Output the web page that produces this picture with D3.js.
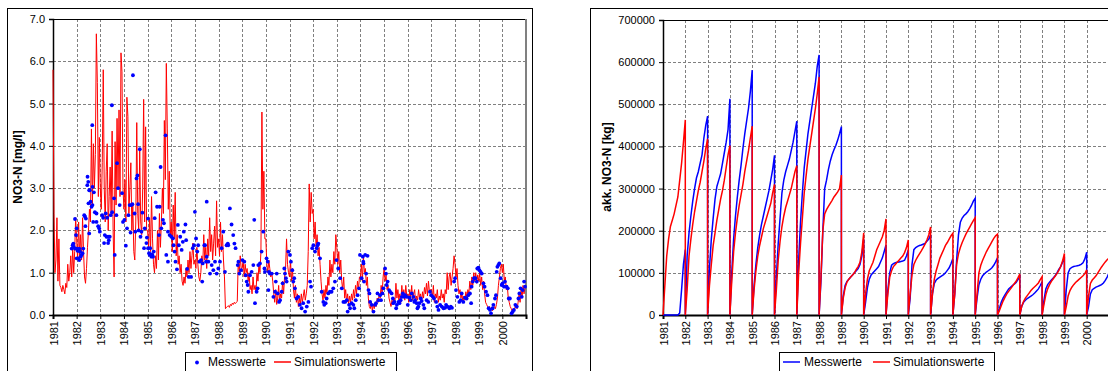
<!DOCTYPE html>
<html><head><meta charset="utf-8">
<script src="https://cdn.jsdelivr.net/npm/d3@7"></script>
<style>body{margin:0;background:#fff}svg{display:block}text{font-family:Arial,"Liberation Sans",sans-serif}</style>
</head><body><svg id="c" width="1108" height="371"></svg>
<script>
// ---------- DATA ----------
const yearTicks = [1981,1982,1983,1984,1985,1986,1987,1988,1989,1990,1991,1992,1993,1994,1995,1996,1997,1998,1999,2000];
const concTicks = [0,1,2,3,4,5,6,7];
const loadTicks = [0,100000,200000,300000,400000,500000,600000,700000];
const legendLabels = ["Messwerte","Simulationswerte"];

// simulated NO3-N [mg/l], half-monthly values per year (1981..2000)
const simNO3 = [
[5.8,2.4,1.0,1.3,2.3,0.8,1.8,0.7,0.65,0.55,0.7,0.6,0.5,0.75,0.65,1.2,0.8,1.0,1.4,0.9,1.6,1.0,1.5,2.3],
[1.8,1.3,2.2,1.4,1.9,1.3,2.3,1.5,0.9,0.75,1.1,1.6,2.0,2.5,2.2,4.4,2.6,4.05,3.0,3.8,6.65,5.5,2.8,4.2],
[3.0,2.5,3.6,5.8,3.0,2.2,3.4,4.05,2.0,2.8,3.5,2.4,4.35,2.0,0.9,4.1,2.6,4.65,3.0,4.85,2.8,6.2,5.75,3.0],
[2.5,3.2,2.2,5.15,4.7,2.4,3.0,3.6,2.0,2.6,1.5,1.3,2.2,4.55,2.4,2.0,3.9,2.2,1.9,3.0,5.1,2.2,4.45,2.0],
[2.0,1.6,2.3,1.5,2.8,1.8,1.2,1.0,1.4,1.1,2.0,1.3,2.4,1.6,2.2,3.0,2.4,4.6,3.2,5.95,4.4,2.5,3.4,1.9],
[2.2,1.5,2.6,1.8,2.9,1.4,1.9,1.2,1.4,1.0,1.2,0.8,0.7,0.9,0.75,1.1,0.9,1.3,1.0,1.5,1.1,1.4,1.7,1.2],
[1.3,1.1,1.6,1.2,0.9,0.8,1.0,1.4,1.2,1.9,1.3,1.6,1.1,1.8,1.4,2.3,1.5,1.9,1.3,1.7,2.1,1.4,2.7,1.6],
[1.8,1.4,2.2,1.5,1.9,1.3,0.9,0.15,0.18,0.2,0.22,0.18,0.25,0.22,0.28,0.25,0.3,0.27,0.3,0.32,1.3,1.0,1.4,1.1],
[1.1,1.3,0.9,1.2,1.0,1.1,0.8,1.0,0.6,0.7,0.5,0.9,0.6,0.7,0.55,1.0,0.8,1.2,1.0,1.5,4.8,2.5,3.4,1.8],
[1.8,1.2,1.0,1.3,1.1,0.9,1.0,0.8,0.5,0.3,0.6,0.25,0.4,0.7,0.3,0.5,0.4,0.8,0.5,0.9,1.1,1.8,1.2,1.0],
[0.9,1.3,0.8,1.1,0.6,0.4,0.7,0.3,0.5,0.2,0.4,0.25,0.5,0.3,0.45,0.6,0.35,0.5,0.7,1.5,3.1,2.2,2.9,2.4],
[2.5,1.8,2.2,1.6,1.9,1.4,1.6,1.2,0.8,0.5,0.35,0.6,0.4,0.7,0.5,0.9,0.7,1.3,0.9,1.2,1.0,1.5,1.2,1.9],
[1.6,1.2,1.5,1.0,1.3,0.8,0.6,0.9,0.4,0.6,0.3,0.5,0.25,0.45,0.3,0.5,0.35,0.6,0.4,0.7,0.5,0.8,0.6,0.9],
[0.9,1.2,0.8,1.4,1.0,1.1,0.7,0.9,0.4,0.2,0.15,0.3,0.1,0.25,0.15,0.3,0.2,0.4,0.3,0.5,0.4,0.7,0.5,0.9],
[1.1,0.8,0.95,0.6,0.7,0.4,0.3,0.2,0.35,0.25,0.4,0.3,0.75,0.4,0.6,0.35,0.5,0.3,0.7,0.4,0.6,0.35,0.7,0.45],
[0.5,0.3,0.6,0.4,0.7,0.35,0.5,0.6,0.3,0.45,0.35,0.6,0.4,0.5,0.3,0.55,0.4,0.65,0.5,0.75,0.45,0.8,0.55,0.6],
[0.6,0.4,0.7,0.3,0.5,0.4,0.6,0.3,0.45,0.35,0.6,0.4,0.5,0.3,0.6,0.5,1.0,0.6,0.9,1.0,0.7,0.9,1.1,1.4],
[1.2,0.9,1.1,0.7,0.5,0.6,0.4,0.5,0.3,0.45,0.35,0.55,0.4,0.6,0.5,0.8,0.6,0.9,0.7,1.0,0.8,1.0,0.75,0.95],
[0.8,1.0,0.7,0.9,0.6,0.8,0.5,0.3,0.25,0.2,0.15,0.2,0.12,0.18,0.1,0.15,0.2,0.15,0.25,0.4,0.7,0.9,1.1,1.2],
[1.0,1.2,0.8,0.9,0.6,0.7,0.4,0.3,0.2,0.15,0.1,0.15,0.1,0.2,0.25,0.15,0.3,0.5,0.3,0.6,0.4,0.7,0.5,0.65]
];

// measured NO3-N: sampling date (decimal year) and value [mg/l]
const messT = [
1981.79,1981.83,1981.86,1981.88,1981.93,1981.93,1981.97,1982.00,1982.00,1982.00,1982.04,1982.07,1982.07,1982.11,1982.11,1982.14,1982.17,1982.21,1982.25,1982.28,
1982.32,1982.35,1982.37,1982.39,1982.45,1982.46,1982.49,1982.50,1982.53,1982.53,1982.56,1982.59,1982.63,1982.66,1982.67,1982.67,1982.70,1982.73,1982.77,1982.84,
1982.84,1982.91,1982.95,1982.98,1983.08,1983.12,1983.16,1983.19,1983.23,1983.26,1983.29,1983.33,1983.33,1983.36,1983.40,1983.44,1983.49,1983.50,1983.58,1983.61,
1983.68,1983.71,1983.75,1983.82,1983.92,1983.96,1984.02,1984.08,1984.13,1984.19,1984.24,1984.28,1984.31,1984.36,1984.38,1984.45,1984.48,1984.53,1984.57,1984.60,
1984.62,1984.67,1984.70,1984.74,1984.78,1984.85,1984.88,1984.95,1984.97,1985.02,1985.02,1985.06,1985.09,1985.11,1985.13,1985.16,1985.20,1985.23,1985.26,1985.30,
1985.34,1985.40,1985.48,1985.51,1985.55,1985.58,1985.65,1985.69,1985.76,1985.79,1985.86,1985.86,1985.93,1986.00,1986.07,1986.10,1986.14,1986.18,1986.24,1986.28,
1986.32,1986.38,1986.44,1986.49,1986.53,1986.60,1986.63,1986.67,1986.74,1986.84,1986.91,1986.96,1987.00,1987.05,1987.10,1987.14,1987.19,1987.26,1987.31,1987.33,
1987.40,1987.43,1987.47,1987.50,1987.50,1987.57,1987.64,1987.71,1987.78,1987.85,1987.92,1987.99,1988.06,1988.13,1988.20,1988.27,1988.34,1988.39,1988.41,1988.48,
1988.55,1988.62,1988.67,1988.72,1988.81,1988.84,1988.88,1988.95,1989.01,1989.09,1989.15,1989.19,1989.23,1989.26,1989.33,1989.40,1989.47,1989.51,1989.54,1989.61,
1989.65,1989.68,1989.75,1989.82,1989.89,1989.94,1989.96,1990.03,1990.08,1990.11,1990.13,1990.17,1990.25,1990.32,1990.39,1990.42,1990.46,1990.50,1990.56,1990.60,
1990.67,1990.71,1990.78,1990.81,1990.85,1990.88,1990.95,1991.02,1991.06,1991.12,1991.16,1991.20,1991.23,1991.30,1991.37,1991.44,1991.51,1991.58,1991.66,1991.73,
1991.80,1991.87,1991.91,1991.96,1992.01,1992.08,1992.15,1992.19,1992.22,1992.29,1992.36,1992.43,1992.47,1992.53,1992.57,1992.64,1992.71,1992.78,1992.85,1992.92,
1992.99,1993.06,1993.14,1993.21,1993.28,1993.35,1993.42,1993.46,1993.52,1993.56,1993.63,1993.70,1993.74,1993.80,1993.88,1993.94,1993.98,1994.05,1994.10,1994.12,
1994.13,1994.15,1994.20,1994.24,1994.30,1994.34,1994.38,1994.41,1994.48,1994.55,1994.62,1994.66,1994.72,1994.76,1994.83,1994.87,1994.93,1994.97,1995.04,1995.08,
1995.11,1995.15,1995.21,1995.25,1995.32,1995.37,1995.39,1995.44,1995.51,1995.54,1995.61,1995.65,1995.70,1995.75,1995.79,1995.85,1995.89,1995.96,1996.00,1996.07,
1996.13,1996.17,1996.24,1996.28,1996.31,1996.38,1996.41,1996.45,1996.49,1996.55,1996.59,1996.66,1996.70,1996.80,1996.87,1996.94,1996.99,1997.06,1997.11,1997.20,
1997.25,1997.30,1997.37,1997.44,1997.51,1997.58,1997.62,1997.68,1997.76,1997.82,1997.87,1997.96,1998.00,1998.04,1998.10,1998.18,1998.24,1998.28,1998.35,1998.42,
1998.49,1998.56,1998.63,1998.68,1998.70,1998.75,1998.80,1998.86,1998.92,1998.94,1998.99,1999.03,1999.08,1999.13,1999.20,1999.25,1999.31,1999.37,1999.42,1999.48,
1999.52,1999.59,1999.62,1999.69,1999.73,1999.76,1999.79,1999.83,1999.87,1999.93,1999.97,2000.01,2000.07,2000.11,2000.18,2000.23,2000.27,2000.32,2000.39,2000.44,
2000.49,2000.55,2000.61,2000.68,2000.72,2000.77,2000.82,2000.86,2000.92,2000.96
];
const messV = [
1.57,1.65,1.69,1.61,2.27,1.57,1.89,2.05,1.57,1.34,1.52,1.54,1.34,1.57,1.30,1.50,1.38,1.42,1.46,1.57,
2.36,2.33,2.10,2.28,3.07,3.27,3.15,2.64,2.95,1.93,2.95,2.68,2.56,4.49,3.03,2.60,2.20,2.90,2.43,2.40,
2.20,2.10,2.05,1.97,2.36,2.30,1.70,1.89,2.40,1.85,2.30,1.85,1.70,1.77,1.85,2.36,4.96,2.43,2.76,1.42,
2.36,3.59,3.00,2.60,2.88,2.20,2.25,1.64,2.05,2.36,2.60,1.95,2.60,2.62,5.67,2.40,1.97,3.23,3.30,2.62,
2.00,3.92,1.85,1.97,2.42,1.58,2.05,1.70,1.83,1.58,2.28,1.46,1.42,1.58,1.44,1.38,1.42,1.38,1.50,2.29,
2.90,2.56,1.89,2.56,3.50,2.05,2.25,2.17,4.25,1.42,1.26,1.97,1.89,1.85,1.81,1.65,1.50,1.26,1.08,2.13,
1.65,1.85,1.54,1.73,1.97,2.14,1.77,1.09,0.90,0.90,1.58,1.65,2.44,1.81,1.50,1.65,1.26,1.30,0.79,1.22,
1.65,1.65,1.26,2.68,1.38,1.26,0.98,1.18,1.06,1.26,0.98,1.10,1.26,1.58,1.97,1.02,1.65,1.69,1.65,2.52,
2.14,1.89,1.69,1.58,1.18,1.26,0.98,1.06,1.30,1.26,0.94,0.79,0.71,0.55,0.94,1.02,1.18,2.25,0.28,0.55,
0.63,1.18,1.22,1.50,1.97,1.10,1.02,1.34,1.26,0.59,1.02,0.98,0.98,0.43,0.55,0.79,0.98,0.51,0.31,0.35,
0.55,0.75,1.10,0.98,0.87,0.79,1.50,1.42,1.26,1.06,0.79,0.87,0.63,0.39,0.43,0.24,0.16,0.28,0.08,0.20,
0.31,0.79,0.67,1.58,1.65,1.50,1.58,1.65,1.69,1.34,0.55,0.31,0.24,0.28,0.39,0.51,0.55,0.55,0.63,0.79,
1.30,1.10,0.87,0.63,0.31,0.31,0.35,0.08,0.24,0.16,0.28,0.24,0.16,0.35,0.47,0.63,1.42,0.87,1.38,1.26,
1.22,0.79,1.42,0.98,1.40,0.59,0.51,0.31,0.24,0.08,0.24,0.28,0.51,0.35,0.47,0.35,0.51,0.63,1.10,0.98,
0.71,0.79,0.59,0.55,0.51,0.39,0.28,0.31,0.16,0.24,0.31,0.28,0.35,0.43,0.51,0.43,0.47,0.43,0.24,0.41,
0.35,0.51,0.43,0.31,0.35,0.28,0.16,0.20,0.28,0.39,0.33,0.24,0.16,0.35,0.31,0.55,0.47,0.43,0.39,0.31,
0.20,0.12,0.24,0.20,0.16,0.17,0.24,0.20,0.16,0.20,0.17,0.79,0.87,0.59,0.43,0.31,0.35,0.51,0.31,0.41,
0.39,0.47,0.51,0.28,0.67,0.79,0.87,0.87,0.79,1.10,1.12,1.06,1.02,0.98,0.75,0.67,0.55,0.47,0.16,0.12,
0.04,0.16,0.24,0.39,0.47,1.02,1.14,1.18,1.22,0.87,0.71,0.75,0.67,0.79,0.67,0.63,0.39,0.39,0.04,0.08,
0.12,0.24,0.20,0.39,0.51,0.63,0.43,0.59,0.79,0.67
];

// accumulated NO3-N load [kg], cumulative at start of each month (13 values per year)
const messAkk = [
[0,0,0,0,0,0,0,0,0,5000,60000,120000,155000],
[0,140000,195000,235000,270000,300000,325000,340000,360000,380000,420000,450000,472000],
[0,110000,180000,230000,275000,305000,320000,335000,360000,385000,410000,440000,513000],
[0,100000,180000,235000,280000,320000,355000,395000,430000,460000,490000,530000,581000],
[0,70000,120000,160000,190000,215000,235000,255000,275000,295000,320000,345000,379000],
[0,90000,170000,230000,290000,320000,340000,355000,370000,390000,410000,435000,460000],
[0,130000,220000,290000,350000,390000,430000,460000,490000,520000,550000,590000,617000],
[0,80000,200000,300000,320000,345000,365000,380000,392000,402000,415000,430000,447000],
[0,45000,70000,80000,85000,90000,95000,100000,105000,110000,120000,140000,180000],
[0,30000,65000,85000,95000,100000,105000,110000,115000,125000,135000,150000,166000],
[0,60000,100000,118000,122000,124000,125000,126000,127000,128000,130000,140000,154000],
[0,40000,120000,155000,160000,163000,165000,166000,168000,170000,175000,180000,190000],
[0,50000,75000,83000,87000,90000,93000,96000,100000,106000,112000,122000,134000],
[0,50000,130000,190000,220000,230000,236000,240000,245000,252000,260000,270000,277000],
[0,40000,72000,85000,93000,98000,102000,105000,108000,112000,118000,126000,136000],
[0,15000,30000,40000,48000,55000,62000,66000,70000,73000,77000,84000,91000],
[0,20000,30000,35000,39000,42000,45000,48000,52000,57000,62000,70000,79000],
[0,35000,62000,72000,78000,83000,88000,93000,100000,108000,115000,125000,138000],
[0,60000,100000,110000,113000,115000,116000,117000,118000,120000,124000,133000,149000],
[0,20000,50000,60000,63000,66000,68000,70000,72000,76000,82000,90000,100000]
];
const simAkk = [
[0,70000,140000,180000,210000,225000,240000,260000,280000,320000,360000,410000,463000],
[0,60000,140000,180000,215000,245000,270000,295000,315000,340000,365000,395000,418000],
[0,70000,120000,165000,195000,225000,250000,275000,295000,320000,350000,380000,402000],
[0,80000,150000,195000,230000,260000,285000,310000,340000,365000,390000,420000,448000],
[0,60000,105000,140000,165000,185000,205000,220000,235000,250000,265000,290000,310000],
[0,60000,130000,175000,210000,235000,255000,270000,285000,300000,320000,340000,354000],
[0,100000,170000,230000,290000,330000,370000,400000,430000,460000,490000,525000,565000],
[0,90000,200000,240000,250000,258000,265000,272000,280000,286000,292000,300000,332000],
[0,40000,65000,78000,85000,90000,95000,100000,108000,115000,125000,150000,195000],
[0,50000,85000,105000,115000,125000,140000,155000,165000,175000,185000,200000,228000],
[0,50000,90000,105000,115000,120000,125000,130000,135000,140000,148000,160000,178000],
[0,50000,95000,120000,130000,138000,145000,152000,160000,168000,178000,190000,209000],
[0,50000,85000,105000,120000,135000,145000,155000,165000,172000,180000,188000,194000],
[0,50000,120000,145000,160000,172000,182000,192000,200000,208000,216000,224000,231000],
[0,50000,100000,118000,130000,140000,150000,158000,166000,174000,182000,188000,192000],
[0,10000,22000,33000,42000,50000,56000,62000,68000,74000,80000,88000,97000],
[0,20000,32000,40000,46000,52000,58000,63000,67000,71000,76000,84000,91000],
[0,25000,48000,62000,72000,80000,86000,92000,98000,106000,115000,128000,146000],
[0,20000,45000,58000,66000,72000,77000,81000,85000,89000,93000,98000,107000],
[0,45000,75000,83000,88000,93000,100000,107000,114000,120000,126000,131000,135000]
];

// ---------- DRAW ----------
const svg = d3.select("#c");
svg.append("rect").attr("width",1108).attr("height",371).attr("fill","#fff");
const BLUE="#0000ff", RED="#ff0000", GRID="#808080";

function panel(o){
  // outer frame
  svg.append("rect").attr("x",o.fx).attr("y",8.5).attr("width",o.fw).attr("height",400)
    .attr("fill","none").attr("stroke","#000").attr("stroke-width",1);
  const x = d3.scaleLinear().domain([1981,2001]).range([o.x0,o.x1]);
  const y = d3.scaleLinear().domain(o.ydom).range([315,o.y0]);
  const g = svg.append("g");
  // grid
  g.selectAll(".hg").data(o.yt.slice(1,-1)).join("line")
    .attr("x1",o.x0).attr("x2",o.x1).attr("y1",d=>Math.round(y(d))+0.5).attr("y2",d=>Math.round(y(d))+0.5)
    .attr("stroke",GRID).attr("stroke-dasharray","3,2");
  g.selectAll(".vg").data(yearTicks.slice(1)).join("line")
    .attr("x1",d=>Math.round(x(d))+0.5).attr("x2",d=>Math.round(x(d))+0.5).attr("y1",o.y0).attr("y2",315)
    .attr("stroke",GRID).attr("stroke-dasharray","3,2");
  // frame of plot
  g.append("line").attr("x1",o.x0).attr("x2",o.x1).attr("y1",o.y0+0.5).attr("y2",o.y0+0.5).attr("stroke","#000");
  g.append("line").attr("x1",o.x1).attr("x2",o.x1).attr("y1",o.y0).attr("y2",315).attr("stroke",GRID).attr("stroke-width",2);
  // y axis
  const ya = d3.axisLeft(y).tickValues(o.yt).tickSize(4).tickFormat(o.fmt);
  const yg = svg.append("g").attr("transform",`translate(${o.x0},0)`).call(ya);
  yg.select(".domain").attr("stroke-width",1.5);
  yg.selectAll("text").attr("font-size",11).attr("fill","#000").attr("x",-8);
  // x axis
  const xa = d3.axisBottom(x).tickValues(yearTicks).tickSize(4).tickFormat(d3.format("d"));
  const xg = svg.append("g").attr("transform","translate(0,315)").call(xa);
  xg.select(".domain").attr("stroke-width",2);
  xg.selectAll("text").attr("font-size",11).attr("fill","#000")
    .attr("text-anchor","end").attr("transform","translate(4,6) rotate(-90)").attr("x",0).attr("y",0).attr("dy",0);
  // y title
  svg.append("text").attr("transform",`translate(${o.tx},167) rotate(-90)`).attr("text-anchor","middle")
    .attr("font-size",12).attr("font-weight","bold").text(o.title);
  return {x,y};
}

// Left chart
const L = panel({fx:7.5,fw:525,x0:53,x1:526,y0:19,ydom:[0,7],yt:concTicks,fmt:d3.format(".1f"),tx:22,title:"NO3-N [mg/l]"});
const simPts = [];
simNO3.forEach((row,j)=>row.forEach((v,i)=>simPts.push({t:yearTicks[j]+i/24,v})));
svg.append("path").datum(simPts).attr("fill","none").attr("stroke",RED).attr("stroke-width",1)
  .attr("d",d3.line().x(d=>L.x(d.t)).y(d=>L.y(d.v)));
svg.append("g").selectAll("circle").data(messT.map((t,i)=>({t,v:messV[i]}))).join("circle")
  .attr("cx",d=>L.x(d.t)).attr("cy",d=>L.y(d.v)).attr("r",1.9).attr("fill",BLUE);

// Right chart
const R = panel({fx:590.5,fw:600,x0:663,x1:1109,y0:20,ydom:[0,700000],yt:loadTicks,fmt:d3.format("d"),tx:611,title:"akk. NO3-N [kg]"});
function cum(arr){const p=[];arr.forEach((row,j)=>row.forEach((v,m)=>p.push({t:yearTicks[j]+m/12,v})));return p;}
const rl = d3.line().x(d=>R.x(d.t)).y(d=>R.y(d.v));
svg.append("path").datum(cum(messAkk)).attr("fill","none").attr("stroke",BLUE).attr("stroke-width",1.5).attr("d",rl);
svg.append("path").datum(cum(simAkk)).attr("fill","none").attr("stroke",RED).attr("stroke-width",1.5).attr("d",rl);

// Legends
function legend(x0,w,lineBlue,bx){
  const g = svg.append("g");
  g.append("rect").attr("x",x0+0.5).attr("y",352.5).attr("width",w).attr("height",30).attr("fill","#fff").attr("stroke","#000");
  if(lineBlue){
    g.append("line").attr("x1",x0+4).attr("x2",x0+21).attr("y1",362).attr("y2",362).attr("stroke",BLUE).attr("stroke-width",1.5);
  } else {
    g.append("circle").attr("cx",x0+12).attr("cy",362.5).attr("r",1.9).attr("fill",BLUE);
  }
  g.append("text").attr("x",x0+(lineBlue?25:23)).attr("y",366).attr("font-size",12).text(legendLabels[0]);
  g.append("line").attr("x1",bx).attr("x2",bx+17).attr("y1",362).attr("y2",362).attr("stroke",RED).attr("stroke-width",1.5);
  g.append("text").attr("x",bx+20).attr("y",366).attr("font-size",12).text(legendLabels[1]);
}
legend(185,211,false,274);
legend(779,215,true,873);
</script></body></html>
